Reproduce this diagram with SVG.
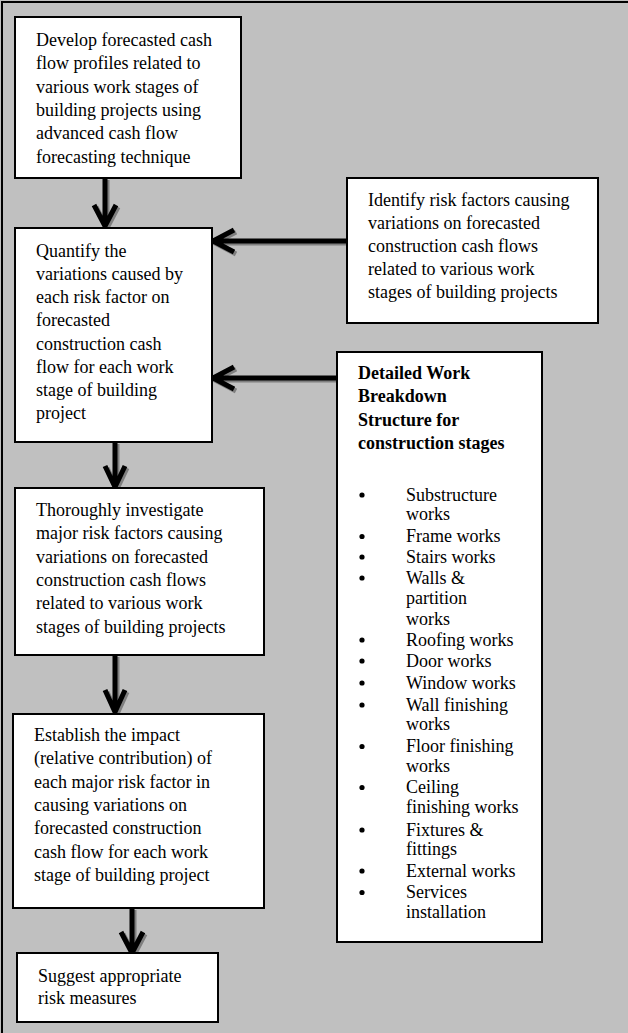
<svg xmlns="http://www.w3.org/2000/svg" width="628" height="1033" viewBox="0 0 628 1033">
<style>
.box{fill:#fff;stroke:#000;stroke-width:2}
.t{font-family:"Liberation Serif","Times New Roman",serif;font-size:18px;fill:#000}
.b{font-weight:bold}
.sh{fill:none;stroke:#7f7f7f;stroke-width:5}
.ln{fill:none;stroke:#000;stroke-width:5;stroke-linejoin:miter}
</style>
<rect x="0" y="0" width="628" height="1033" fill="#c0c0c0"/>
<rect x="2" y="2" width="640" height="1045" fill="none" stroke="#000" stroke-width="2"/>

<g id="connectors">
  <g transform="translate(2,2)">
    <path class="sh" d="M105 178V224M94 205L105 226L116 205"/>
    <path class="sh" d="M115 442V485M105 466L115 487L125 466"/>
    <path class="sh" d="M115 655V711M105 690L115 712L125 690"/>
    <path class="sh" d="M132 908V951M121 932L132 953L143 932"/>
    <path class="sh" d="M347 241H215M234 230L213 241L234 252"/>
    <path class="sh" d="M337 378H215M234 367L213 378L234 389"/>
  </g>
  <path class="ln" d="M105 178V224M94 205L105 226L116 205"/>
  <path class="ln" d="M115 442V485M105 466L115 487L125 466"/>
  <path class="ln" d="M115 655V711M105 690L115 712L125 690"/>
  <path class="ln" d="M132 908V951M121 932L132 953L143 932"/>
  <path class="ln" d="M347 241H215M234 230L213 241L234 252"/>
  <path class="ln" d="M337 378H215M234 367L213 378L234 389"/>
</g>

<g id="develop">
  <rect class="box" x="15" y="17" width="226" height="161"/>
  <text class="t" x="36" y="45.7">Develop forecasted cash</text>
  <text class="t" x="36" y="69.1">flow profiles related to</text>
  <text class="t" x="36" y="92.5">various work stages of</text>
  <text class="t" x="36" y="115.9">building projects using</text>
  <text class="t" x="36" y="139.3">advanced cash flow</text>
  <text class="t" x="36" y="162.7">forecasting technique</text>
</g>

<g id="quantify">
  <rect class="box" x="15" y="228" width="197" height="214"/>
  <text class="t" x="36" y="256.7">Quantify the</text>
  <text class="t" x="36" y="279.9">variations caused by</text>
  <text class="t" x="36" y="303.1">each risk factor on</text>
  <text class="t" x="36" y="326.3">forecasted</text>
  <text class="t" x="36" y="349.5">construction cash</text>
  <text class="t" x="36" y="372.7">flow for each work</text>
  <text class="t" x="36" y="395.9">stage of building</text>
  <text class="t" x="36" y="419.1">project</text>
</g>

<g id="identify">
  <rect class="box" x="347" y="178" width="251" height="145"/>
  <text class="t" x="368" y="205.7">Identify risk factors causing</text>
  <text class="t" x="368" y="228.8">variations on forecasted</text>
  <text class="t" x="368" y="252">construction cash flows</text>
  <text class="t" x="368" y="275.1">related to various work</text>
  <text class="t" x="368" y="298.3">stages of building projects</text>
</g>

<g id="wbs">
  <rect class="box" x="337" y="352" width="205" height="590"/>
  <text class="t b" x="358" y="379">Detailed Work</text>
  <text class="t b" x="358" y="402.4">Breakdown</text>
  <text class="t b" x="358" y="425.8">Structure for</text>
  <text class="t b" x="358" y="449.3">construction stages</text>
  <g fill="#000">
    <circle cx="362" cy="495" r="2.6"/>
    <circle cx="362" cy="536.5" r="2.6"/>
    <circle cx="362" cy="557" r="2.6"/>
    <circle cx="362" cy="578" r="2.6"/>
    <circle cx="362" cy="640" r="2.6"/>
    <circle cx="362" cy="661" r="2.6"/>
    <circle cx="362" cy="683" r="2.6"/>
    <circle cx="362" cy="705" r="2.6"/>
    <circle cx="362" cy="746.5" r="2.6"/>
    <circle cx="362" cy="787.5" r="2.6"/>
    <circle cx="362" cy="830" r="2.6"/>
    <circle cx="362" cy="871" r="2.6"/>
    <circle cx="362" cy="892.5" r="2.6"/>
  </g>
  <text class="t" x="406" y="500.7">Substructure</text>
  <text class="t" x="406" y="520">works</text>
  <text class="t" x="406" y="542.3">Frame works</text>
  <text class="t" x="406" y="562.7">Stairs works</text>
  <text class="t" x="406" y="584">Walls &amp;</text>
  <text class="t" x="406" y="604">partition</text>
  <text class="t" x="406" y="625">works</text>
  <text class="t" x="406" y="646">Roofing works</text>
  <text class="t" x="406" y="666.7">Door works</text>
  <text class="t" x="406" y="689">Window works</text>
  <text class="t" x="406" y="710.7">Wall finishing</text>
  <text class="t" x="406" y="730">works</text>
  <text class="t" x="406" y="752.3">Floor finishing</text>
  <text class="t" x="406" y="771.7">works</text>
  <text class="t" x="406" y="793.3">Ceiling</text>
  <text class="t" x="406" y="813.3">finishing works</text>
  <text class="t" x="406" y="835.7">Fixtures &amp;</text>
  <text class="t" x="406" y="855">fittings</text>
  <text class="t" x="406" y="876.7">External works</text>
  <text class="t" x="406" y="898.3">Services</text>
  <text class="t" x="406" y="918.3">installation</text>
</g>

<g id="investigate">
  <rect class="box" x="15" y="488" width="249" height="167"/>
  <text class="t" x="36" y="516">Thoroughly investigate</text>
  <text class="t" x="36" y="539.3">major risk factors causing</text>
  <text class="t" x="36" y="562.6">variations on forecasted</text>
  <text class="t" x="36" y="585.9">construction cash flows</text>
  <text class="t" x="36" y="609.2">related to various work</text>
  <text class="t" x="36" y="632.5">stages of building projects</text>
</g>

<g id="establish">
  <rect class="box" x="13" y="714" width="251" height="194"/>
  <text class="t" x="34" y="741">Establish the impact</text>
  <text class="t" x="34" y="764.3">(relative contribution) of</text>
  <text class="t" x="34" y="787.6">each major risk factor in</text>
  <text class="t" x="34" y="810.9">causing variations on</text>
  <text class="t" x="34" y="834.2">forecasted construction</text>
  <text class="t" x="34" y="857.5">cash flow for each work</text>
  <text class="t" x="34" y="880.8">stage of building project</text>
</g>

<g id="suggest">
  <rect class="box" x="17" y="953" width="201" height="69"/>
  <text class="t" x="38" y="981.7">Suggest appropriate</text>
  <text class="t" x="38" y="1004.3">risk measures</text>
</g>
</svg>
